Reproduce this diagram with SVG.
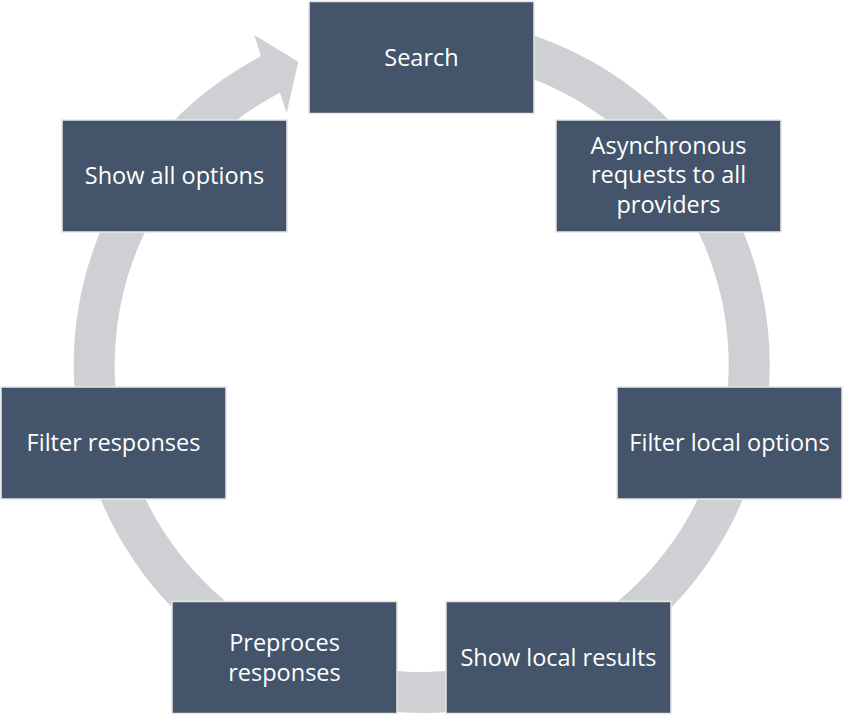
<svg xmlns="http://www.w3.org/2000/svg" width="848" height="715" viewBox="0 0 848 715">
<style>
.node rect{fill:#44546A;stroke:#E7E6E6;stroke-width:1.5}
.node text{fill:#FFFFFF;font-family:"Open Sans","Noto Sans",sans-serif;font-size:23.5px;text-anchor:middle}
.ring{fill:#CFD0D4}
</style>
<rect width="848" height="715" fill="#FFFFFF"/>
<g id="connectors">
<path class="ring" d="M 314.16 34.03 A 348 348 0 1 1 261.01 56.32 L 254.3 35 L 298.3 61.7 L 286.7 113 L 279.94 92.69 A 307 307 0 1 0 326.83 73.03 Z"/>
</g>
<g id="node-search" class="node"><rect x="309" y="1.5" width="225" height="112"/><text x="421.5" y="65.5">Search</text></g>
<g id="node-async" class="node"><rect x="556" y="120" width="225" height="112"/><text x="668.5" y="153.5">Asynchronous</text><text x="668.5" y="183">requests to all</text><text x="668.5" y="212.5">providers</text></g>
<g id="node-filter-local" class="node"><rect x="617" y="387" width="225" height="112"/><text x="729.5" y="451">Filter local options</text></g>
<g id="node-show-local" class="node"><rect x="446" y="601.5" width="225" height="112"/><text x="558.5" y="665.5">Show local results</text></g>
<g id="node-preproces" class="node"><rect x="172" y="601.5" width="225" height="112"/><text x="284.5" y="651">Preproces</text><text x="284.5" y="680.5">responses</text></g>
<g id="node-filter-responses" class="node"><rect x="1" y="387" width="225" height="112"/><text x="113.5" y="451">Filter responses</text></g>
<g id="node-show-all" class="node"><rect x="62" y="120" width="225" height="112"/><text x="174.5" y="184">Show all options</text></g>
</svg>
